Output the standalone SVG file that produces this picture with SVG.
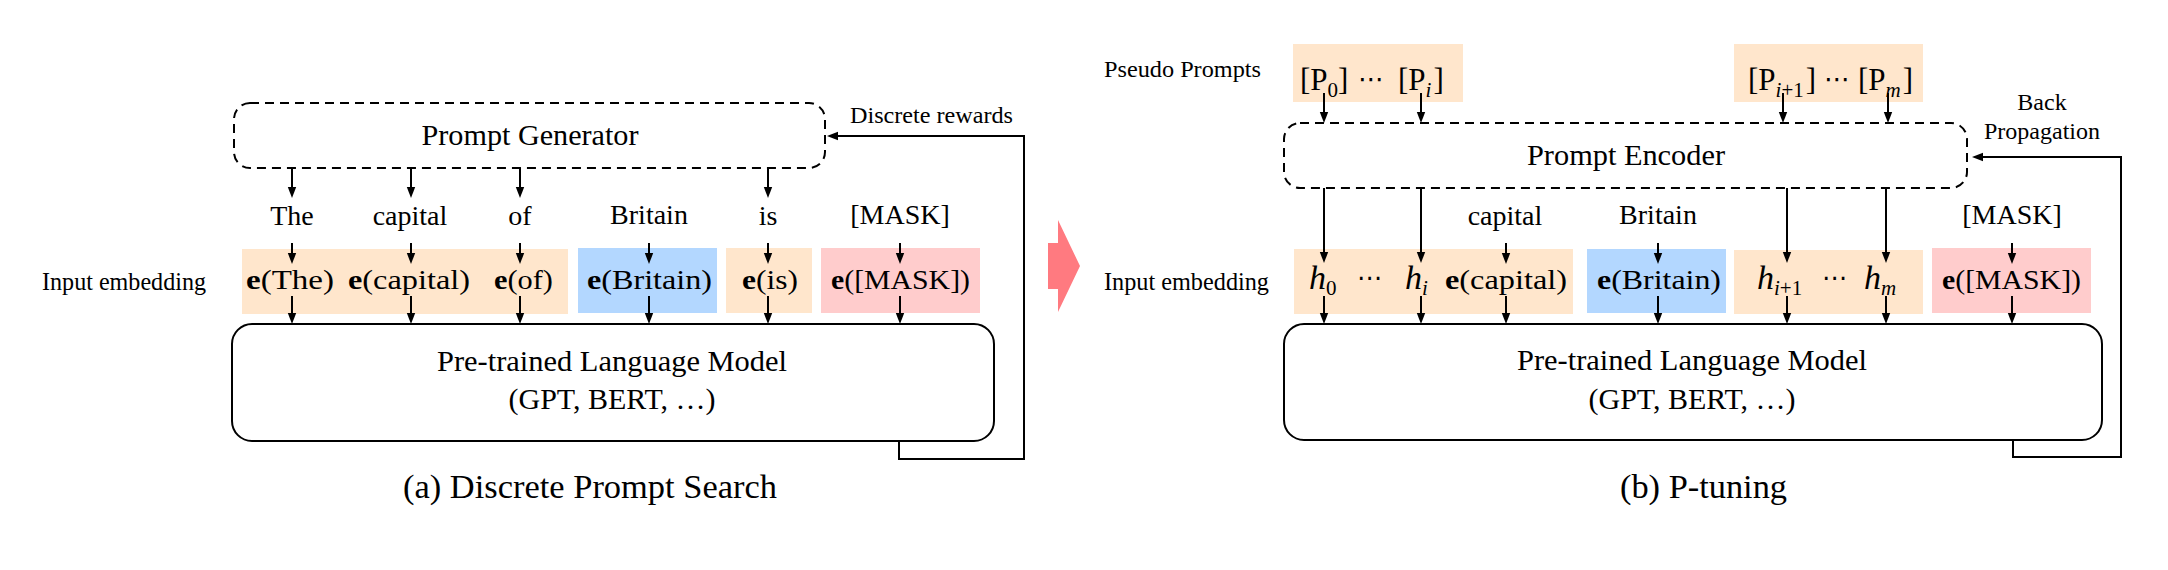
<svg xmlns="http://www.w3.org/2000/svg" width="2168" height="570" viewBox="0 0 2168 570">
<style>
.t{font-family:"Liberation Serif","Times New Roman",Times,serif;fill:#000}
.dots{font-family:"DejaVu Serif","DejaVu Sans",serif;fill:#000}
.m{text-anchor:middle}
.ln{stroke:#000;stroke-width:2;fill:none}
.ar{stroke:#000;stroke-width:2;fill:none;marker-end:url(#ah)}
.dash{stroke:#000;stroke-width:2;fill:none;stroke-dasharray:9 6}
.or{fill:#FFE6CC}.bl{fill:#B3D7FF}.pk{fill:#FFCCCC}
.i{font-style:italic}
.b{font-weight:bold}
</style>
<defs>
<marker id="ah" markerUnits="userSpaceOnUse" markerWidth="12" markerHeight="10" refX="5" refY="5" orient="auto">
<path d="M0,0.8 L11,5 L0,9.2 z" fill="#000"/>
</marker>
</defs>
<rect width="2168" height="570" fill="#fff"/>

<!-- ===== Panel (a) ===== -->
<g id="a-input-label"><text class="t" x="42" y="290" font-size="26" textLength="164" lengthAdjust="spacingAndGlyphs">Input embedding</text></g>
<g id="a-prompt-generator">
<rect class="dash" x="234" y="103" width="591" height="65" rx="16"/>
<text class="t m" x="530" y="145" font-size="30" textLength="217" lengthAdjust="spacingAndGlyphs">Prompt Generator</text>
</g>
<g id="a-words" font-size="28">
<text class="t m" x="292" y="225">The</text>
<text class="t m" x="410" y="225">capital</text>
<text class="t m" x="520" y="225">of</text>
<text class="t m" x="649" y="224">Britain</text>
<text class="t m" x="768" y="225">is</text>
<text class="t m" x="900" y="224">[MASK]</text>
</g>
<g id="a-emb-orange1"><rect class="or" x="242" y="249" width="326" height="65"/>
<text class="t" x="246" y="289" font-size="28" textLength="88" lengthAdjust="spacingAndGlyphs"><tspan class="b">e</tspan>(The)</text>
<text class="t" x="348" y="289" font-size="28" textLength="122" lengthAdjust="spacingAndGlyphs"><tspan class="b">e</tspan>(capital)</text>
<text class="t" x="494" y="289" font-size="28" textLength="59" lengthAdjust="spacingAndGlyphs"><tspan class="b">e</tspan>(of)</text>
</g>
<g id="a-emb-blue"><rect class="bl" x="578" y="248" width="139" height="65"/>
<text class="t" x="587" y="289" font-size="28" textLength="125" lengthAdjust="spacingAndGlyphs"><tspan class="b">e</tspan>(Britain)</text></g>
<g id="a-emb-orange2"><rect class="or" x="726" y="248" width="86" height="65"/>
<text class="t" x="742" y="289" font-size="28" textLength="56" lengthAdjust="spacingAndGlyphs"><tspan class="b">e</tspan>(is)</text></g>
<g id="a-emb-pink"><rect class="pk" x="821" y="248" width="159" height="65"/>
<text class="t" x="831" y="289" font-size="28" textLength="139" lengthAdjust="spacingAndGlyphs"><tspan class="b">e</tspan>([MASK])</text></g>
<g id="a-plm">
<rect class="ln" x="232" y="324" width="762" height="117" rx="20"/>
<text class="t m" x="612" y="371" font-size="30" textLength="350" lengthAdjust="spacingAndGlyphs">Pre-trained Language Model</text>
<text class="t m" x="612" y="409" font-size="29" textLength="207" lengthAdjust="spacingAndGlyphs">(GPT, BERT, …)</text>
</g>
<g id="a-reward-label"><text class="t" x="850" y="123" font-size="24" textLength="163" lengthAdjust="spacingAndGlyphs">Discrete rewards</text></g>
<g id="a-caption"><text class="t" x="403" y="498" font-size="34" textLength="374" lengthAdjust="spacingAndGlyphs">(a) Discrete Prompt Search</text></g>

<!-- middle arrow -->
<g id="transition-arrow"><polygon points="1048,243 1058,243 1058,220 1080,266 1058,312 1058,289 1048,289" fill="#FF7A80"/></g>

<!-- ===== Panel (b) ===== -->
<g id="b-pseudo-label"><text class="t" x="1104" y="77" font-size="24" textLength="157" lengthAdjust="spacingAndGlyphs">Pseudo Prompts</text></g>
<g id="b-pseudo1"><rect class="or" x="1293" y="44" width="170" height="58"/>
<text class="t" x="1300" y="90" font-size="31">[P<tspan font-size="21" dy="7">0</tspan><tspan dy="-7">]</tspan></text>
<text class="dots" x="1358" y="88" font-size="26">⋯</text>
<text class="t" x="1398" y="90" font-size="31">[P<tspan class="i" font-size="21" dy="7">i</tspan><tspan dy="-7" dx="2">]</tspan></text>
</g>
<g id="b-pseudo2"><rect class="or" x="1734" y="44" width="189" height="58"/>
<text class="t" x="1748" y="90" font-size="31">[P<tspan font-size="21" dy="7"><tspan class="i">i</tspan>+1</tspan><tspan dy="-7" dx="2">]</tspan></text>
<text class="dots" x="1824" y="88" font-size="26">⋯</text>
<text class="t" x="1858" y="90" font-size="31">[P<tspan class="i" font-size="21" dy="7">m</tspan><tspan dy="-7" dx="2">]</tspan></text>
</g>
<g id="b-prompt-encoder">
<rect class="dash" x="1284" y="123" width="683" height="65" rx="16"/>
<text class="t m" x="1626" y="165" font-size="30" textLength="198" lengthAdjust="spacingAndGlyphs">Prompt Encoder</text>
</g>
<g id="b-backprop-label" font-size="24">
<text class="t m" x="2042" y="110">Back</text>
<text class="t m" x="2042" y="139" textLength="116" lengthAdjust="spacingAndGlyphs">Propagation</text>
</g>
<g id="b-input-label"><text class="t" x="1104" y="290" font-size="26" textLength="165" lengthAdjust="spacingAndGlyphs">Input embedding</text></g>
<g id="b-words" font-size="28">
<text class="t m" x="1505" y="225">capital</text>
<text class="t m" x="1658" y="224">Britain</text>
<text class="t m" x="2012" y="224">[MASK]</text>
</g>
<g id="b-emb-orange1"><rect class="or" x="1294" y="249" width="279" height="65"/>
<text class="t" x="1309" y="289"><tspan class="i" font-size="34">h</tspan><tspan font-size="21" dy="6">0</tspan></text>
<text class="dots" x="1357" y="286" font-size="25">⋯</text>
<text class="t" x="1405" y="289"><tspan class="i" font-size="34">h</tspan><tspan class="i" font-size="21" dy="6">i</tspan></text>
<text class="t" x="1445" y="289" font-size="28" textLength="122" lengthAdjust="spacingAndGlyphs"><tspan class="b">e</tspan>(capital)</text>
</g>
<g id="b-emb-blue"><rect class="bl" x="1587" y="249" width="139" height="64"/>
<text class="t" x="1597" y="289" font-size="28" textLength="124" lengthAdjust="spacingAndGlyphs"><tspan class="b">e</tspan>(Britain)</text></g>
<g id="b-emb-orange2"><rect class="or" x="1734" y="250" width="189" height="64"/>
<text class="t" x="1757" y="289"><tspan class="i" font-size="34">h</tspan><tspan font-size="21" dy="6"><tspan class="i">i</tspan>+1</tspan></text>
<text class="dots" x="1822" y="286" font-size="25">⋯</text>
<text class="t" x="1864" y="289"><tspan class="i" font-size="34">h</tspan><tspan class="i" font-size="21" dy="6">m</tspan></text>
</g>
<g id="b-emb-pink"><rect class="pk" x="1932" y="248" width="159" height="65"/>
<text class="t" x="1942" y="289" font-size="28" textLength="139" lengthAdjust="spacingAndGlyphs"><tspan class="b">e</tspan>([MASK])</text></g>
<g id="b-plm">
<rect class="ln" x="1284" y="324" width="818" height="116" rx="20"/>
<text class="t m" x="1692" y="370" font-size="30" textLength="350" lengthAdjust="spacingAndGlyphs">Pre-trained Language Model</text>
<text class="t m" x="1692" y="409" font-size="29" textLength="207" lengthAdjust="spacingAndGlyphs">(GPT, BERT, …)</text>
</g>
<g id="b-caption"><text class="t" x="1620" y="498" font-size="34" textLength="167" lengthAdjust="spacingAndGlyphs">(b) P-tuning</text></g>

<!-- ===== Connectors ===== -->
<g id="connectors">
<line class="ar" x1="292" y1="168" x2="292" y2="192"/>
<line class="ar" x1="411" y1="168" x2="411" y2="192"/>
<line class="ar" x1="520" y1="168" x2="520" y2="192"/>
<line class="ar" x1="768" y1="168" x2="768" y2="192"/>
<line class="ar" x1="292" y1="243" x2="292" y2="258"/>
<line class="ar" x1="411" y1="243" x2="411" y2="258"/>
<line class="ar" x1="520" y1="243" x2="520" y2="258"/>
<line class="ar" x1="649" y1="243" x2="649" y2="258"/>
<line class="ar" x1="768" y1="243" x2="768" y2="258"/>
<line class="ar" x1="900" y1="243" x2="900" y2="258"/>
<line class="ar" x1="292" y1="296" x2="292" y2="318"/>
<line class="ar" x1="411" y1="296" x2="411" y2="318"/>
<line class="ar" x1="520" y1="296" x2="520" y2="318"/>
<line class="ar" x1="649" y1="296" x2="649" y2="318"/>
<line class="ar" x1="768" y1="296" x2="768" y2="318"/>
<line class="ar" x1="900" y1="296" x2="900" y2="318"/>
<path class="ar" d="M899,441 V459 H1024 V136 H833"/>
<line class="ar" x1="1324" y1="93" x2="1324" y2="117"/>
<line class="ar" x1="1421" y1="93" x2="1421" y2="117"/>
<line class="ar" x1="1783" y1="93" x2="1783" y2="117"/>
<line class="ar" x1="1888" y1="93" x2="1888" y2="117"/>
<line class="ar" x1="1324" y1="188" x2="1324" y2="257"/>
<line class="ar" x1="1421" y1="188" x2="1421" y2="257"/>
<line class="ar" x1="1787" y1="188" x2="1787" y2="257"/>
<line class="ar" x1="1886" y1="188" x2="1886" y2="257"/>
<line class="ar" x1="1506" y1="243" x2="1506" y2="258"/>
<line class="ar" x1="1658" y1="243" x2="1658" y2="258"/>
<line class="ar" x1="2012" y1="243" x2="2012" y2="258"/>
<line class="ar" x1="1324" y1="296" x2="1324" y2="318"/>
<line class="ar" x1="1421" y1="296" x2="1421" y2="318"/>
<line class="ar" x1="1506" y1="296" x2="1506" y2="318"/>
<line class="ar" x1="1658" y1="296" x2="1658" y2="318"/>
<line class="ar" x1="1787" y1="296" x2="1787" y2="318"/>
<line class="ar" x1="1886" y1="296" x2="1886" y2="318"/>
<line class="ar" x1="2012" y1="296" x2="2012" y2="318"/>
<path class="ar" d="M2013,440 V457 H2121 V157 H1978"/>
</g>
</svg>
